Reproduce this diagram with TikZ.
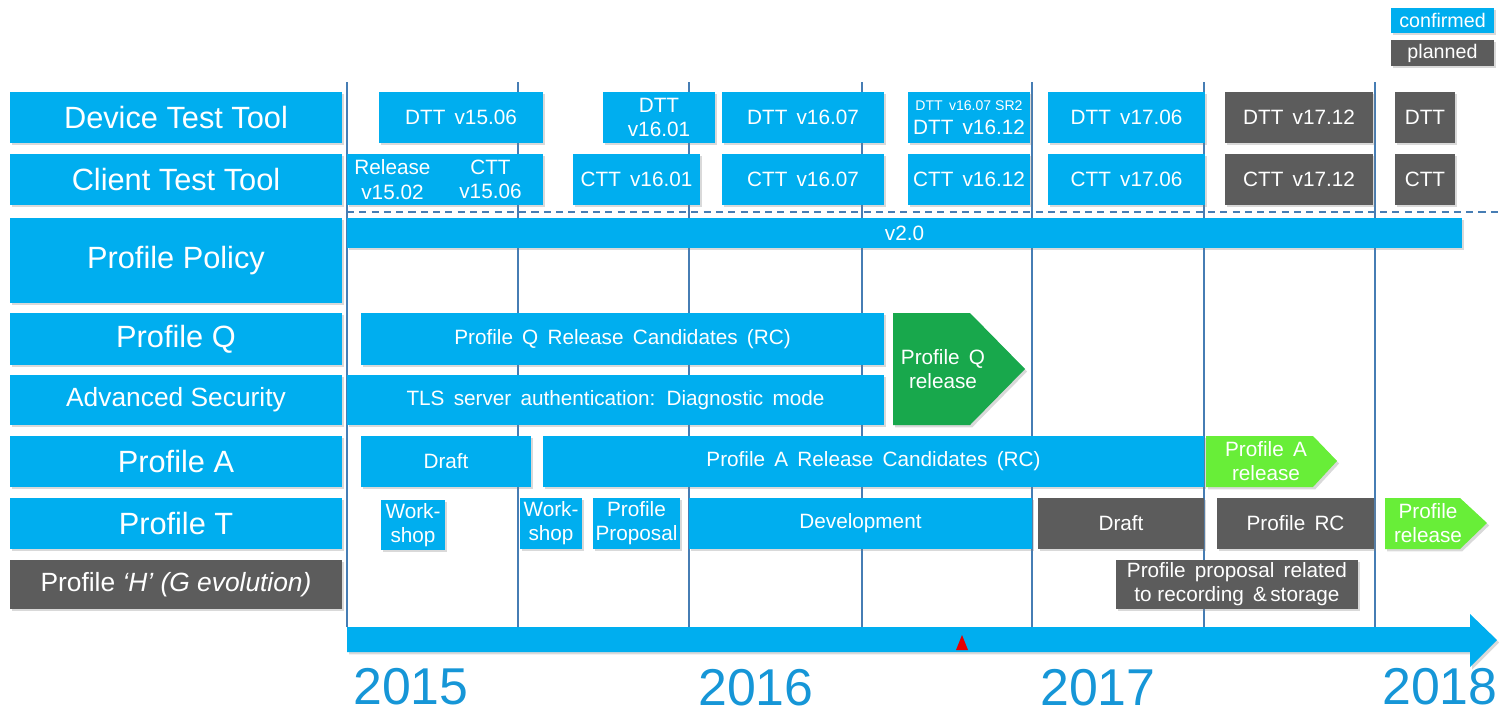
\documentclass[tikz,border=0pt]{standalone}
\usepackage{fontspec}
\setmainfont{Liberation Sans}
\usetikzlibrary{shadows}

\definecolor{confblue}{RGB}{0,174,239}
\definecolor{plangrey}{RGB}{92,92,92}
\definecolor{relgreen}{RGB}{24,168,76}
\definecolor{litegreen}{RGB}{104,238,56}
\definecolor{gridblue}{RGB}{70,125,180}
\definecolor{yearblue}{RGB}{22,150,215}

\begin{document}
\begin{tikzpicture}[x=0.02cm, y=-0.02cm,
    shade/.style={drop shadow={shadow xshift=1.2pt, shadow yshift=-1.4pt, opacity=0.3}},
    cell/.style n args={4}{minimum width={(#3-#1)*0.02cm}, minimum height={(#4-#2)*0.02cm},
      at={({(#1+#3)/2},{(#2+#4)/2})}},
    rowlab/.style={fill=confblue, text=white, inner sep=0pt, shade, font=\fontsize{17.5}{20}\selectfont},
    conf/.style={fill=confblue, text=white, inner sep=0pt, shade, align=center, font=\fontsize{11.8}{13.8}\selectfont},
    plan/.style={conf, fill=plangrey},
    reltext/.style={text=white, align=center, font=\fontsize{11.8}{13.8}\selectfont},
    year/.style={text=yearblue, inner sep=0pt, anchor=base, font=\fontsize{29.5}{32}\selectfont}]
   \useasboundingbox (0,0) rectangle (1499,714);

   %grid
   \foreach \gx in {347,518,689,862,1032,1204,1375}
     \draw[gridblue, line width=0.6pt] (\gx,82) -- (\gx,627);
   \draw[gridblue, line width=0.6pt, dash pattern=on 4pt off 3pt] (347,212) -- (1499,212);

   %legend
   \node[conf, cell={1391}{8}{1494}{33}, font=\fontsize{11.2}{13}\selectfont] (confirmed) {confirmed};
   \node[plan, cell={1391}{40}{1494}{66}, font=\fontsize{11.2}{13}\selectfont] (planned) {planned};

   %row labels
   \node[rowlab, cell={10}{92}{342}{143}] (ldtt) {Device Test Tool};
   \node[rowlab, cell={10}{154}{342}{205}] (lctt) {Client Test Tool};
   \node[rowlab, cell={10}{218}{342}{303}] (lpol) {Profile Policy};
   \node[rowlab, cell={10}{313}{342}{365}] (lq) {Profile Q};
   \node[rowlab, cell={10}{375}{342}{425}, font=\fontsize{15}{17}\selectfont] (lsec) {Advanced Security};
   \node[rowlab, cell={10}{436}{342}{487}] (la) {Profile A};
   \node[rowlab, cell={10}{498}{342}{549}] (lt) {Profile T};
   \node[rowlab, fill=plangrey, cell={10}{560}{342}{609}, font=\fontsize{15}{17}\selectfont] (lh) {Profile \textit{‘H’ (G evolution)}};

   %device test tool
   \node[conf, cell={379}{92}{543}{143}] (dtt1506) {DTT\, v15.06};
   \node[conf, cell={603}{92}{715}{143}] (dtt1601) {DTT\\v16.01};
   \node[conf, cell={722}{92}{884}{143}] (dtt1607) {DTT\, v16.07};
   \node[conf, cell={908}{92}{1030}{143}] (dtt1612) {{\fontsize{8}{9}\selectfont DTT\, v16.07 SR2}\\DTT\, v16.12};
   \node[conf, cell={1048}{92}{1205}{143}] (dtt1706) {DTT\, v17.06};
   \node[plan, cell={1225}{92}{1373}{143}] (dtt1712) {DTT\, v17.12};
   \node[plan, cell={1395}{92}{1455}{143}] (dttnext) {DTT};

   %client test tool
   \node[conf, cell={347}{154}{438}{205}] (rel1502) {Release\\v15.02};
   \node[conf, cell={438}{154}{543}{205}] (ctt1506) {CTT\\v15.06};
   \node[conf, cell={573}{154}{700}{205}] (ctt1601) {CTT\, v16.01};
   \node[conf, cell={722}{154}{884}{205}] (ctt1607) {CTT\, v16.07};
   \node[conf, cell={908}{154}{1030}{205}] (ctt1612) {CTT\, v16.12};
   \node[conf, cell={1048}{154}{1205}{205}] (ctt1706) {CTT\, v17.06};
   \node[plan, cell={1225}{154}{1373}{205}] (ctt1712) {CTT\, v17.12};
   \node[plan, cell={1395}{154}{1455}{205}] (cttnext) {CTT};

   %profile policy
   \node[conf, cell={347}{218}{1462}{248}] (v20) {v2.0};

   %profile Q, advanced security
   \node[conf, cell={361}{313}{884}{365}] (qrc) {Profile\, Q\, Release\, Candidates\, (RC)};
   \node[conf, cell={347}{375}{884}{425}] (tls) {TLS\, server\, authentication:\, Diagnostic\, mode};
   \fill[relgreen, shade] (893,313) -- (970,313) -- (1025,369) -- (970,425) -- (893,425) -- cycle;
   \node[reltext] (qrel) at (943,369) {Profile\, Q\\release};

   %profile A
   \node[conf, cell={361}{436}{531}{487}] (adraft) {Draft};
   \node[conf, cell={543}{436}{1204}{487}] (arc) {Profile\, A\, Release\, Candidates\, (RC)};
   \fill[litegreen, shade] (1206,436) -- (1313,436) -- (1337,461) -- (1313,487) -- (1206,487) -- cycle;
   \node[reltext] (arel) at (1266,461) {Profile\, A\\release};

   %profile T
   \node[conf, cell={381}{500}{445}{550}] (ws1) {Work-\\shop};
   \node[conf, cell={520}{498}{582}{549}] (ws2) {Work-\\shop};
   \node[conf, cell={593}{498}{680}{549}] (tprop) {Profile\\Proposal};
   \node[conf, cell={689}{498}{1032}{549}] (tdev) {Development};
   \node[plan, cell={1038}{498}{1204}{549}] (tdraft) {Draft};
   \node[plan, cell={1217}{498}{1374}{549}] (trc) {Profile\, RC};
   \fill[litegreen, shade] (1385,498) -- (1460,498) -- (1487,523) -- (1460,549) -- (1385,549) -- cycle;
   \node[reltext] (trel) at (1428,523) {Profile\\release};

   %profile H
   \node[plan, cell={1116}{560}{1358}{609}] (hprop) {Profile\, proposal\, related\\to recording\, \&\,storage};

   %timeline
   \fill[confblue, shade] (347,627) -- (1470,627) -- (1470,614) -- (1497,640) -- (1470,667) -- (1470,652) -- (347,652) -- cycle;
   \fill[red!90!black] (956,650) -- (962,635) -- (968,650) -- cycle;
   \node[year] (y15) at (411,704) {2015};
   \node[year] (y16) at (756,705) {2016};
   \node[year] (y17) at (1098,705) {2017};
   \node[year] (y18) at (1440,704) {2018};
\end{tikzpicture}
\end{document}
